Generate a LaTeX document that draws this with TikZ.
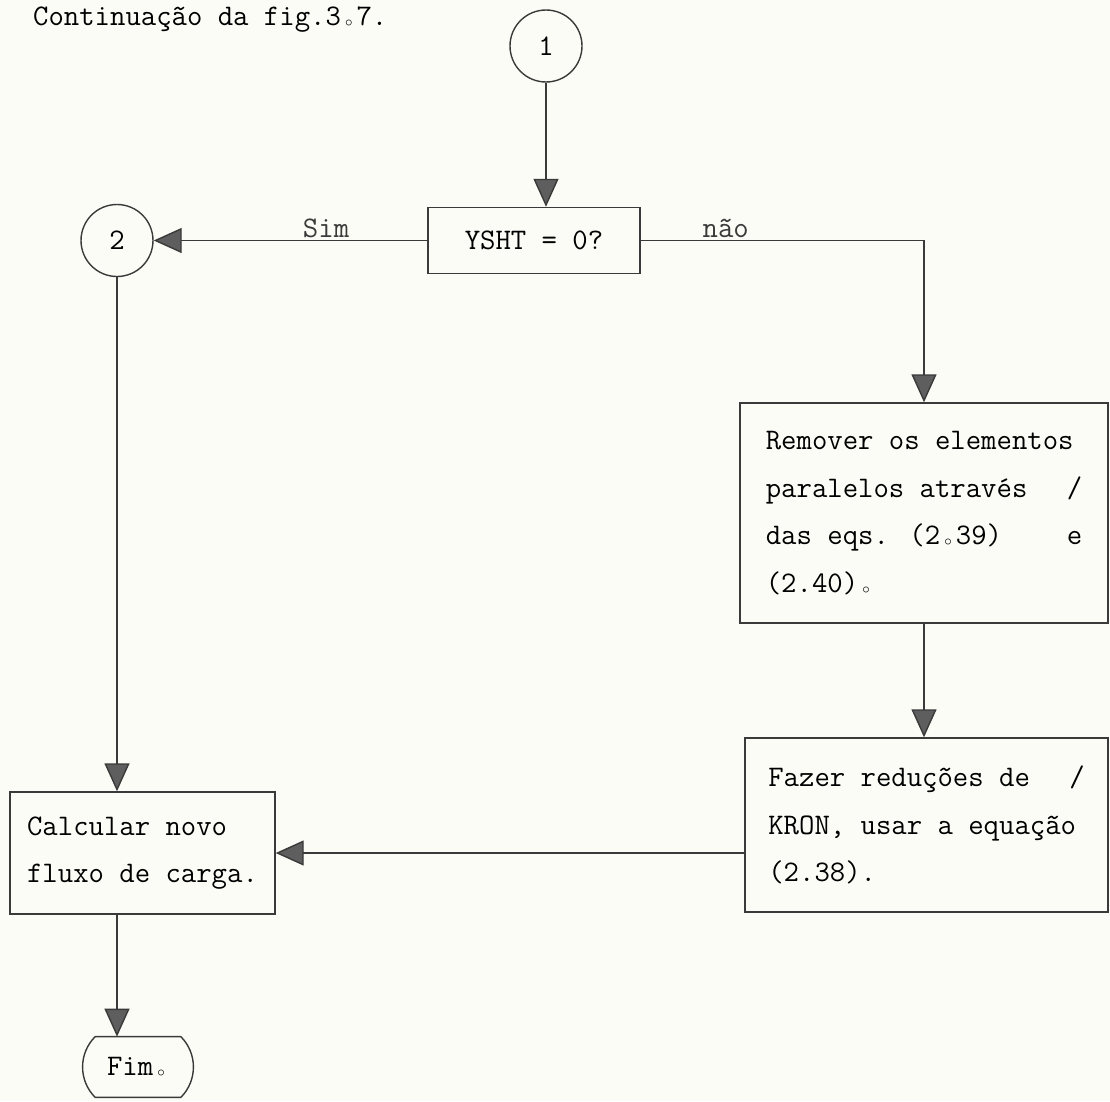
\documentclass[tikz,border=0pt]{standalone}
\usepackage{fontspec}
\usetikzlibrary{arrows.meta,positioning,calc}
\definecolor{cink}{HTML}{3a3a3a}
\definecolor{chead}{HTML}{5e5e5e}
\definecolor{cpaper}{HTML}{fcfcf6}
\newcommand{\circpt}{\makebox[0.525em]{\raisebox{-0.1ex}{$\scriptscriptstyle\circ$}}}

\begin{document}
\begin{tikzpicture}[
      font=\ttfamily\fontsize{17}{27}\selectfont,
      box/.style={draw=cink, line width=0.8pt, inner sep=0pt},
      conn/.style={draw=cink, circle, line width=0.8pt, minimum size=1.44cm, inner sep=0pt},
      arr/.style={-{Triangle[length=0.56cm,width=0.5cm,fill=chead]}, line width=0.8pt, cink},
      lbl/.style={above, inner sep=1pt}
    ]
    \fill[cpaper] (0,0) rectangle (22.2,-22.02);
    \node[anchor=base west] (title) at (0.54,-0.50) {Continuação da fig.3\circpt7.};

    \node[conn] (c1) at (10.92,-0.92) {1};
    \node[box, minimum width=4.24cm, minimum height=1.32cm] (ysht) at (10.68,-4.81) {YSHT = 0?};
    \node[conn] (c2) at (2.34,-4.81) {2};
    \node[box, minimum width=7.36cm, minimum height=4.40cm, text width=180pt, align=flush left] (remover) at (18.48,-10.26)
      {Remover os elementos\\paralelos através\hfill /\\das eqs. (2\circpt39)\hfill e\\(2.40)\circpt};
    \node[box, minimum width=7.26cm, minimum height=3.48cm, text width=180pt, align=flush left] (fazer) at (18.53,-16.50)
      {Fazer reduções de\hfill /\\KRON, usar a equação\\(2.38).};
    \node[box, minimum width=5.30cm, minimum height=2.44cm, align=left] (calc) at (2.85,-17.06) {Calcular novo\\fluxo de carga.};
    \node[minimum width=1.70cm, minimum height=1.20cm, inner sep=0pt] (fim) at (2.76,-21.34) {Fim\circpt};
    \draw[cink, line width=0.8pt] (fim.north west) to[bend right=45] (fim.south west) -- (fim.south east)
      to[bend right=45] (fim.north east) -- cycle;

    \draw[arr] (c1) -- (c1 |- ysht.north);
    \draw[arr] (ysht.west) -- node[lbl, pos=0.37] {Sim} (c2.east);
    \draw[arr] (ysht.east) -| node[lbl, pos=0.15] {não} (remover.north);
    \draw[arr] (remover.south) -- (remover.south |- fazer.north);
    \draw[arr] (c2.south) -- (c2.south |- calc.north);
    \draw[arr] (fazer.west |- calc.east) -- (calc.east);
    \draw[arr] (c2.south |- calc.south) -- (c2.south |- fim.north);
  \end{tikzpicture}
\end{document}
